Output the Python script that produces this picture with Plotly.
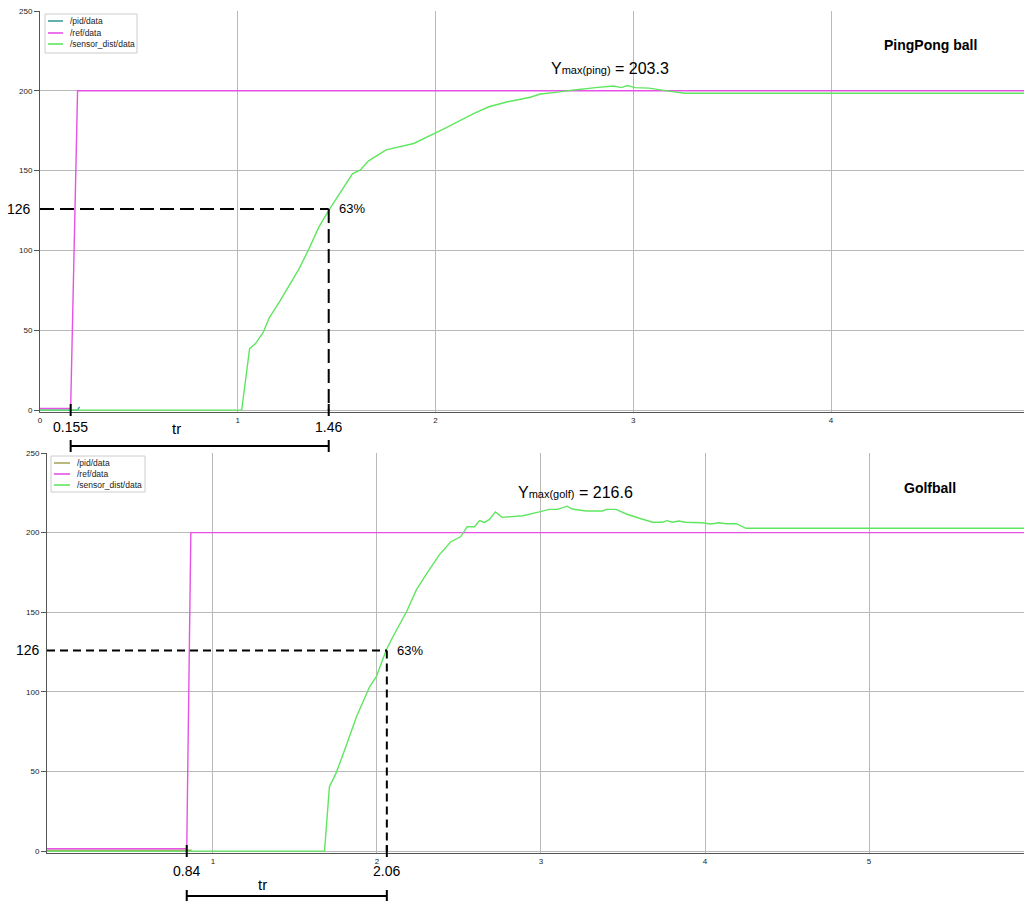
import plotly.graph_objects as go

# ---- data ----
# PingPong ball run (top)
t_pid_ping = [0, 0.19, 0.2]
y_pid_ping = [0, 0, 2]
t_ref_ping = [0, 0.155, 0.19, 4.976]
y_ref_ping = [1, 1, 200, 200]
t_sen_ping = [0, 1.02, 1.06, 1.09, 1.13, 1.16, 1.21, 1.26, 1.31, 1.36, 1.41, 1.465,
              1.53, 1.58, 1.62, 1.66, 1.75, 1.89, 2.04, 2.10, 2.19, 2.27, 2.36, 2.48,
              2.53, 2.61, 2.69, 2.81, 2.90, 2.94, 2.97, 3.01, 3.08, 3.17, 3.26, 4.976]
y_sen_ping = [0, 0, 38.5, 41.7, 49, 58, 67.7, 78, 88.5, 101, 114.6, 126,
              138.5, 148, 150.4, 156, 163, 167, 176, 180, 185.5, 190, 193, 196,
              198, 199, 200.4, 202, 203, 202, 203.3, 202, 201.7, 200, 198.5, 198.5]

# Golfball run (bottom)
t_pid_golf = [-0.012, 0.87]
y_pid_golf = [0.5, 0.5]
t_ref_golf = [-0.012, 0.84, 0.865, 5.945]
y_ref_golf = [1.5, 1.5, 200, 200]
t_sen_golf = [-0.012, 1.68, 1.71, 1.75, 1.81, 1.875, 1.955, 1.996, 2.057, 2.097, 2.18, 2.24,
              2.31, 2.38, 2.45, 2.51, 2.55, 2.595, 2.625, 2.655, 2.686, 2.722, 2.763, 2.89,
              2.99, 3.05, 3.10, 3.16, 3.19, 3.275, 3.375, 3.40, 3.457, 3.52, 3.60, 3.68,
              3.74, 3.77, 3.80, 3.84, 3.88, 3.98, 4.035, 4.086, 4.127, 4.19, 4.25, 5.945]
y_sen_golf = [0, 0, 40.4, 48.8, 65.5, 84.4, 103.2, 109.5, 126.5, 134.6, 150.3, 164,
              175.4, 186, 194.3, 197.4, 203.7, 203.7, 207.5, 206.4, 208.3, 213, 209.6, 210.6,
              213, 214.6, 214.6, 216.6, 214.8, 213.6, 213.6, 214.6, 214.6, 211.7, 209, 206.5,
              206.5, 207.5, 206.5, 207.3, 206.5, 206.2, 205.4, 206.2, 205.6, 205.6, 202.7, 202.7]

series_names = ["/pid/data", "/ref/data", "/sensor_dist/data"]

# rise-time markers
y63 = 126
t0_ping, t63_ping, ymax_ping = 0.155, 1.46, 203.3
t0_golf, t63_golf, ymax_golf = 0.84, 2.06, 216.6

W, H = 1024, 901
FONT = "Arial, Liberation Sans, sans-serif"
C_REF = "#e552e5"
C_SEN = "#5fe65f"
C_PID_PING = "#3a9c9c"
C_PID_GOLF = "#aaa65c"


def py(p):
    """pixel row -> paper y"""
    return 1 - p / H


def dom_x(a, b):
    return [a / W, b / W]


def dom_y(top, bottom):
    return [py(bottom), py(top)]


xr1, yr1 = [0, 4.976], [-1.2, 250]
xr2, yr2 = [-0.012, 5.945], [-1.2, 250]
xd1, yd1 = dom_x(40, 1024), dom_y(11, 412)
xd2, yd2 = dom_x(47, 1024), dom_y(453, 853)


def to_px(v, rng, dom):
    return dom[0] + (v - rng[0]) / (rng[1] - rng[0]) * (dom[1] - dom[0])


fig = go.Figure()

line_specs = [
    (t_pid_ping, y_pid_ping, C_PID_PING, "x", "y"),
    (t_ref_ping, y_ref_ping, C_REF, "x", "y"),
    (t_sen_ping, y_sen_ping, C_SEN, "x", "y"),
    (t_pid_golf, y_pid_golf, C_PID_GOLF, "x2", "y2"),
    (t_ref_golf, y_ref_golf, C_REF, "x2", "y2"),
    (t_sen_golf, y_sen_golf, C_SEN, "x2", "y2"),
]
for i, (xs, ys, col, xa, ya) in enumerate(line_specs):
    fig.add_trace(go.Scatter(x=xs, y=ys, name=series_names[i % 3], mode="lines",
                             line=dict(color=col, width=1.4), showlegend=False,
                             xaxis=xa, yaxis=ya))

axis_common = dict(showgrid=True, gridcolor="#b9b9b9", gridwidth=1, zeroline=False,
                   tickfont=dict(family=FONT, size=8, color="#222"), automargin=False,
                   showline=True, linecolor="#555", linewidth=1)

fig.update_layout(
    width=W, height=H,
    margin=dict(l=0, r=0, t=0, b=0),
    paper_bgcolor="white", plot_bgcolor="white",
    template="none",
    font=dict(family=FONT, color="black"),
    xaxis=dict(domain=xd1, range=xr1, anchor="y", tickvals=[0, 1, 2, 3, 4], ticks="",
               **axis_common),
    yaxis=dict(domain=yd1, range=yr1, anchor="x", tickvals=[0, 50, 100, 150, 200, 250],
               ticks="outside", ticklen=5, tickcolor="#555", **axis_common),
    xaxis2=dict(domain=xd2, range=xr2, anchor="y2", tickvals=[1, 2, 3, 4, 5], ticks="",
                **axis_common),
    yaxis2=dict(domain=yd2, range=yr2, anchor="x2", tickvals=[0, 50, 100, 150, 200, 250],
                ticks="outside", ticklen=5, tickcolor="#555", **axis_common),
)

shapes = []
annotations = []


def legend_box(x0, x1, y0, y1, rows, line_x0, line_x1, text_x, colors):
    # small matplotlib-style legend box
    shapes.append(dict(type="rect", xref="paper", yref="paper", x0=x0 / W, x1=x1 / W,
                       y0=py(y1), y1=py(y0), fillcolor="white",
                       line=dict(color="#cccccc", width=1), layer="above"))
    for r, name, col in zip(rows, series_names, colors):
        shapes.append(dict(type="line", xref="paper", yref="paper", x0=line_x0 / W,
                           x1=line_x1 / W, y0=py(r), y1=py(r),
                           line=dict(color=col, width=1.6), layer="above"))
        annotations.append(dict(xref="paper", yref="paper", x=text_x / W, y=py(r),
                                xanchor="left", yanchor="middle", text=name,
                                showarrow=False, font=dict(size=8.5, color="#222")))


legend_box(45, 137, 14, 53, [21, 33, 44], 48, 63, 68, [C_PID_PING, C_REF, C_SEN])
legend_box(51, 145, 456, 492, [463, 474, 485], 54, 70, 75, [C_PID_GOLF, C_REF, C_SEN])


def rise_marks(xa, ya, xr, xd, t0, t63, axis_py, lab_py, tr_x, tr_py, bar_py, dash,
               ymax, ymax_x, ymax_y, tag, title, title_py, lab126_px):
    # dashed guides at 63 %
    shapes.append(dict(type="line", xref=xa, yref=ya, x0=xr[0], x1=t63, y0=y63, y1=y63,
                       line=dict(color="black", width=2, dash=dash)))
    shapes.append(dict(type="line", xref=xa, yref=ya, x0=t63, x1=t63, y0=y63, y1=0,
                       line=dict(color="black", width=2, dash=dash)))
    for t in (t0, t63):
        xp = to_px(t, xr, xd)
        shapes.append(dict(type="line", xref="paper", yref="paper", x0=xp, x1=xp,
                           y0=py(axis_py - 6), y1=py(axis_py + 6),
                           line=dict(color="black", width=2)))
        annotations.append(dict(xref=xa, yref="paper", x=t, y=py(lab_py), text=f"{t:g}",
                                xanchor="center", yanchor="middle", showarrow=False,
                                font=dict(size=14, color="black")))
        shapes.append(dict(type="line", xref="paper", yref="paper", x0=xp, x1=xp,
                           y0=py(bar_py - 6), y1=py(bar_py + 6),
                           line=dict(color="black", width=2)))
    shapes.append(dict(type="line", xref="paper", yref="paper",
                       x0=to_px(t0, xr, xd), x1=to_px(t63, xr, xd),
                       y0=py(bar_py), y1=py(bar_py), line=dict(color="black", width=2)))
    annotations.append(dict(xref=xa, yref="paper", x=tr_x, y=py(tr_py), text="tr",
                            xanchor="center", yanchor="middle", showarrow=False,
                            font=dict(size=15, color="black")))
    annotations.append(dict(xref="paper", yref=ya, x=lab126_px / W, y=y63, xanchor="right",
                            yanchor="middle", text=str(y63), showarrow=False,
                            font=dict(size=14, color="black")))
    annotations.append(dict(xref=xa, yref=ya, x=t63, y=y63, xanchor="left", xshift=8,
                            yanchor="middle", text="63%", showarrow=False,
                            font=dict(size=13, color="black")))
    annotations.append(dict(xref=xa, yref=ya, x=ymax_x, y=ymax_y, xanchor="center",
                            yanchor="middle",
                            text=f"Y<span style='font-size:11px'>max({tag})</span> = {ymax}",
                            showarrow=False, font=dict(size=16, color="black")))
    annotations.append(dict(xref="paper", yref="paper", x=930 / W, y=py(title_py),
                            xanchor="center", yanchor="middle", text=f"<b>{title}</b>",
                            showarrow=False, font=dict(size=14, color="black")))


rise_marks("x", "y", xr1, xd1, t0_ping, t63_ping, 410, 427, 0.69, 429, 446,
           "14px,6px", ymax_ping, 2.88, 214, "ping", "PingPong ball", 45, 33)
rise_marks("x2", "y2", xr2, xd2, t0_golf, t63_golf, 851, 871, 1.30, 884, 896,
           "8px,5px", ymax_golf, 3.21, 225.5, "golf", "Golfball", 488, 42)

fig.update_layout(shapes=shapes, annotations=annotations)

# drop the default page margin so the figure sits at the window's corner
fig.write_html("out.html", config={"displayModeBar": False},
               post_script="document.body.style.margin='0px';")
